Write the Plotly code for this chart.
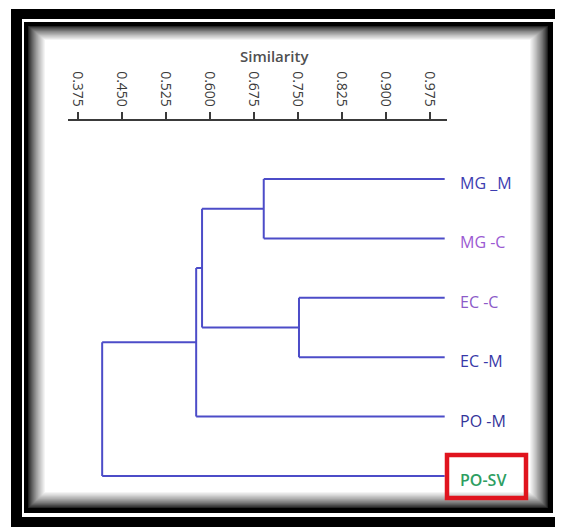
import plotly.graph_objects as go

# ---------------- data ----------------
leaves = ["MG _M", "MG -C", "EC -C", "EC -M", "PO -M", "PO-SV"]
leaf_colors = ["#3c3cb0", "#9b5ad2", "#8c5ac8", "#3838a8", "#34349a", "#2e9e62"]
# merges: (child_a, child_b, similarity); children are leaf indices or "N<k>" for earlier merges
merge_a = [0, 2, "N0", "N2", "N3"]
merge_b = [1, 3, "N1", 4, 5]
merge_sim = [0.692, 0.752, 0.587, 0.577, 0.417]
leaf_sim = 1.0
tick_vals = [0.375, 0.450, 0.525, 0.600, 0.675, 0.750, 0.825, 0.900, 0.975]
tick_text = ["0.375", "0.450", "0.525", "0.600", "0.675", "0.750", "0.825", "0.900", "0.975"]
axis_title = "Similarity"

OFF = 8  # page body margin
W, H = 563 - OFF, 527 - OFF

# ---------------- dendrogram geometry ----------------
node_y = {}
node_x = {}
for i in range(len(leaves)):
    node_y[i] = float(i)
    node_x[i] = leaf_sim

xs, ys = [], []
for k, (a, b, s) in enumerate(zip(merge_a, merge_b, merge_sim)):
    ya, yb = node_y[a], node_y[b]
    xa, xb = node_x[a], node_x[b]
    xs += [xa, s, None, xb, s, None]
    ys += [ya, ya, None, yb, yb, None]
    xs += [s, s, None]
    ys += [ya, yb, None]
    key = "N%d" % k
    node_y[key] = (ya + yb) / 2
    node_x[key] = s

line_color = "#4c4cc8"

fig = go.Figure()
fig.add_trace(go.Scatter(
    x=xs, y=ys, mode="lines",
    line=dict(color=line_color, width=2),
    hoverinfo="skip", showlegend=False, cliponaxis=False,
))

# ---------------- frame (decorative) ----------------
def px(x):
    return (x - OFF) / W

def py(y):
    return 1 - (y - OFF) / H

shapes = []
def rect(x0, y0, x1, y1, fill):
    shapes.append(dict(
        type="rect", xref="paper", yref="paper",
        x0=px(x0), x1=px(x1), y0=py(y1), y1=py(y0),
        fillcolor=fill, line=dict(color=fill, width=0),
        layer="below",
    ))

rect(11, 9, 570, 535, "#000000")
rect(22, 19, 557, 517, "#ffffff")
rect(24, 22, 553, 513, "#000000")
N = 16
for k in range(N):
    t = (k + 1) / N
    g = int(round(255 * min(1.0, t ** 0.7)))
    col = "rgb(%d,%d,%d)" % (g, g, g)
    rect(27 + 18 * t, 25 + 15 * t, 549 - 19 * t, 509 - 17 * t, col)

# red highlight box around PO-SV
shapes.append(dict(
    type="rect", xref="paper", yref="paper",
    x0=px(447), x1=px(526), y0=py(498), y1=py(455),
    line=dict(color="#e0141e", width=4.5), fillcolor="rgba(0,0,0,0)",
    layer="above",
))

# ---------------- labels ----------------
annotations = []
for i, (lab, col) in enumerate(zip(leaves, leaf_colors)):
    annotations.append(dict(
        x=leaf_sim, y=i, xref="x", yref="y", text=lab, showarrow=False,
        xanchor="left", yanchor="middle", xshift=13, yshift=-4,
        font=dict(family="Open Sans", size=16, color=col,
                  weight=600 if lab == "PO-SV" else 500),
    ))
annotations.append(dict(
    x=px(274.5), y=py(56), xref="paper", yref="paper", text=axis_title,
    showarrow=False, xanchor="center", yanchor="middle",
    font=dict(family="Open Sans", size=15, color="#505050", weight=600),
))

# ---------------- axes ----------------
scale = 587.5  # px per unit similarity
x_at = lambda p: 0.375 + (p - 77.5) / scale
x_dom = [px(67.7), px(447)]
x_rng = [x_at(67.7), x_at(447)]
leaf_px0, leaf_step = 179.0 - OFF, 59.4
y_rng = [(H - leaf_px0) / leaf_step, -leaf_px0 / leaf_step]

fig.update_layout(
    width=W, height=H,
    margin=dict(l=0, r=0, t=0, b=0),
    paper_bgcolor="#ffffff", plot_bgcolor="rgba(0,0,0,0)",
    shapes=shapes, annotations=annotations,
    xaxis=dict(
        domain=x_dom, range=x_rng, side="top", anchor="free",
        position=py(119.5), showgrid=False, zeroline=False,
        showline=True, linecolor="#3a3a3a", linewidth=1.5,
        ticks="outside", ticklen=7, tickwidth=1.5, tickcolor="#3a3a3a",
        tickvals=tick_vals, ticktext=tick_text, tickangle=90,
        tickfont=dict(family="Open Sans", size=14, color="#3a3a3a"),
        fixedrange=True,
    ),
    yaxis=dict(
        domain=[0, 1], range=y_rng, visible=False, fixedrange=True,
    ),
    showlegend=False,
)

fig.write_html("out.html")
